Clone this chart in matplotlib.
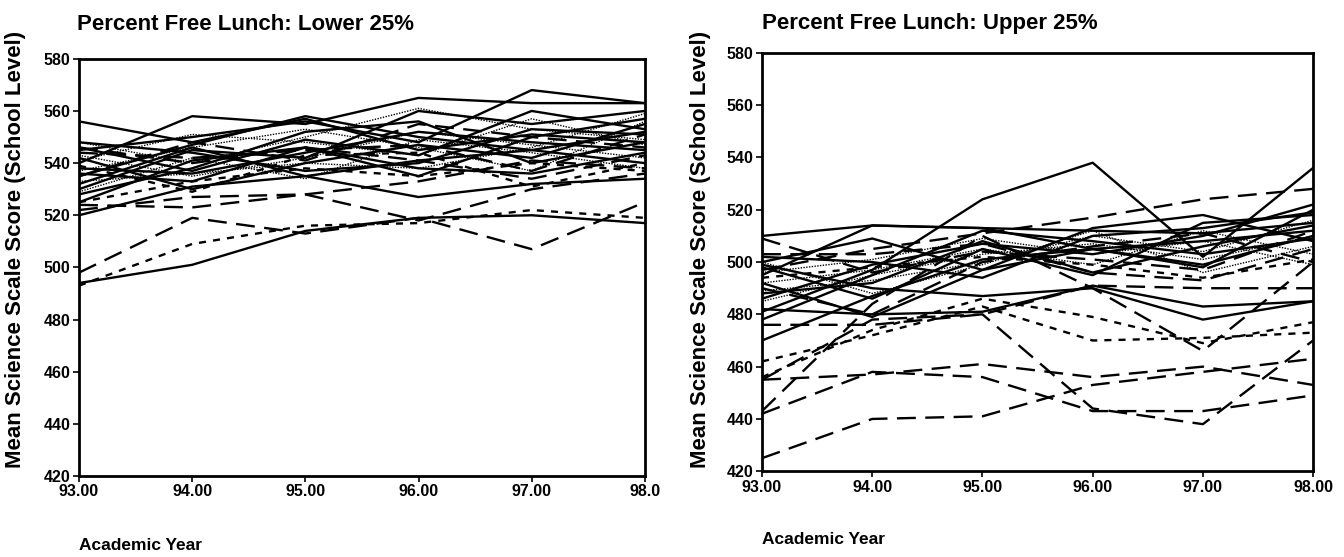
import numpy as np
import matplotlib
matplotlib.use("Agg")
import matplotlib.pyplot as plt

years = [93, 94, 95, 96, 97, 98]
year_labels_left = ["93.00", "94.00", "95.00", "96.00", "97.00", "98.0"]
year_labels_right = ["93.00", "94.00", "95.00", "96.00", "97.00", "98.00"]
y_ticks = [420, 440, 460, 480, 500, 520, 540, 560, 580]

# lower 25% free lunch schools
lower_solid = [
    [494, 501, 514, 519, 520, 517],
    [520, 531, 535, 527, 532, 534],
    [556, 548, 557, 545, 551, 548],
    [540, 558, 555, 565, 563, 563],
    [545, 550, 556, 548, 568, 563],
    [530, 545, 542, 560, 555, 560],
    [535, 547, 558, 550, 545, 552],
    [525, 541, 546, 535, 550, 557],
    [538, 536, 544, 552, 548, 545],
    [532, 546, 535, 541, 545, 540],
    [542, 530, 540, 547, 542, 555],
    [528, 538, 552, 556, 540, 548],
    [548, 544, 537, 540, 553, 551],
    [536, 533, 546, 538, 536, 544],
    [546, 537, 549, 543, 560, 553],
]
lower_dashed = [
    [498, 519, 513, 519, 507, 525],
    [524, 523, 528, 518, 530, 536],
    [522, 527, 528, 533, 541, 538],
    [546, 540, 546, 541, 534, 543],
    [535, 548, 541, 555, 550, 546],
    [544, 542, 545, 547, 537, 551],
]
lower_dotted = [
    [493, 509, 516, 517, 522, 519],
    [525, 533, 538, 535, 540, 537],
    [539, 529, 543, 544, 531, 540],
]
lower_fine = [
    [548, 540, 550, 561, 553, 549],
    [533, 536, 540, 538, 546, 559],
    [541, 551, 548, 543, 557, 547],
    [529, 542, 534, 549, 544, 538],
    [537, 546, 553, 546, 537, 556],
    [543, 535, 542, 552, 547, 542],
]

# upper 25% free lunch schools
upper_solid = [
    [481, 497, 524, 538, 502, 536],
    [510, 514, 513, 512, 511, 515],
    [499, 490, 487, 490, 478, 485],
    [482, 480, 481, 491, 483, 485],
    [470, 487, 501, 505, 498, 520],
    [500, 509, 497, 513, 518, 508],
    [495, 514, 513, 505, 499, 510],
    [486, 499, 507, 503, 510, 522],
    [492, 479, 497, 505, 508, 512],
    [498, 486, 505, 495, 515, 518],
    [478, 495, 512, 508, 503, 509],
    [502, 500, 494, 510, 513, 519],
    [488, 492, 508, 496, 506, 514],
]
upper_dashed = [
    [425, 440, 441, 453, 458, 463],
    [442, 458, 456, 443, 443, 449],
    [455, 457, 461, 456, 460, 453],
    [455, 478, 480, 444, 438, 470],
    [443, 484, 510, 490, 466, 500],
    [476, 476, 480, 491, 490, 490],
    [497, 505, 511, 517, 524, 528],
    [503, 503, 507, 496, 493, 505],
    [490, 480, 500, 506, 511, 500],
    [509, 496, 504, 501, 497, 512],
]
upper_dotted = [
    [462, 472, 483, 470, 471, 473],
    [456, 474, 486, 479, 469, 477],
    [494, 498, 502, 499, 494, 501],
]
upper_fine = [
    [489, 493, 500, 510, 504, 516],
    [496, 501, 509, 503, 508, 499],
    [485, 495, 503, 507, 501, 510],
    [500, 488, 499, 512, 496, 506],
    [492, 497, 505, 499, 512, 503],
]

DASHED = (0, (8, 4))
DOTTED = (0, (3, 3))
FINE = (0, (1, 1))


def plot_panel(ax, solid, dashed, dotted, fine, xlabels, ylabel_y):
    for s in fine:
        ax.plot(years, s, color="black", lw=1.0, linestyle=FINE)
    for s in dotted:
        ax.plot(years, s, color="black", lw=1.7, linestyle=DOTTED)
    for s in dashed:
        ax.plot(years, s, color="black", lw=1.7, linestyle=DASHED)
    for s in solid:
        ax.plot(years, s, color="black", lw=1.7)

    ax.set_xlim(93, 98)
    ax.set_ylim(420, 580)
    ax.set_xticks(years)
    ax.set_xticklabels(xlabels, fontweight="bold", fontsize=11.5)
    ax.set_yticks(y_ticks)
    ax.set_yticklabels([str(t) for t in y_ticks], fontweight="bold", fontsize=11.5)
    ax.tick_params(direction="out", length=4, width=1.2, pad=2)
    for sp in ax.spines.values():
        sp.set_linewidth(2)
    ax.set_ylabel("Mean Science Scale Score (School Level)", fontsize=16, fontweight="bold")
    ax.yaxis.set_label_coords(-0.093, ylabel_y)


def main():
    plt.rcParams["font.family"] = ["Liberation Sans", "DejaVu Sans"]
    fig = plt.figure(figsize=(13.44, 5.57), dpi=100)
    ax1 = fig.add_axes([0.0588, 0.1454, 0.421, 0.749])
    ax2 = fig.add_axes([0.567, 0.154, 0.410, 0.751])

    plot_panel(ax1, lower_solid, lower_dashed, lower_dotted, lower_fine,
               year_labels_left, 0.542)
    plot_panel(ax2, upper_solid, upper_dashed, upper_dotted, upper_fine,
               year_labels_right, 0.53)

    title_y = 1 - 24 / 557
    fig.text(0.0575, title_y, "Percent Free Lunch: Lower 25%", fontsize=16,
             fontweight="bold", va="center")
    fig.text(0.567, title_y, "Percent Free Lunch: Upper 25%", fontsize=16,
             fontweight="bold", va="center")

    fig.text(0.0588, 1 - 545 / 557, "Academic Year", fontsize=12.5, fontweight="bold", va="center")
    fig.text(0.567, 1 - 540 / 557, "Academic Year", fontsize=12.5, fontweight="bold", va="center")

    fig.savefig("out.png", dpi=100)


if __name__ == "__main__":
    main()
